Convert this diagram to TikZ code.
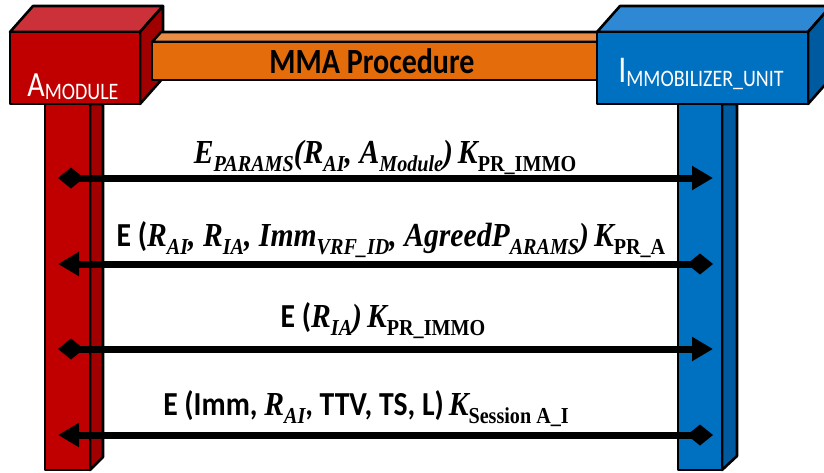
\documentclass[tikz,border=0pt]{standalone}
\usepackage{fontspec}
\setmainfont{Carlito}
\newfontfamily\mathserif{Liberation Serif}
\usetikzlibrary{arrows.meta}

\definecolor{redfront}{HTML}{C00000}
\definecolor{redtop}{HTML}{CC3038}
\definecolor{redside}{HTML}{A00000}
\definecolor{bluefront}{HTML}{0070C0}
\definecolor{bluetop}{HTML}{2E88D4}
\definecolor{blueside}{HTML}{005AA0}
\definecolor{orangefront}{HTML}{E46C0A}
\definecolor{orangetop}{HTML}{EB8C44}

% bold italic serif variable, its subscript, and an upright bold subscript
\newcommand\vi[1]{{\mathserif\bfseries\itshape #1}}
\newcommand\vsub[1]{\raisebox{-7pt}{\fontsize{19pt}{19pt}\selectfont\mathserif\bfseries\itshape #1}}
\newcommand\usub[1]{\raisebox{-7pt}{\fontsize{19pt}{19pt}\selectfont\mathserif\bfseries #1}}
% tall lettering for titles, slightly wider for the messages
\newcommand\tall[1]{\scalebox{1}[1.18]{#1}}
\newcommand\msgtext[1]{\scalebox{1.06}[1.2]{#1}}

\begin{document}
\begin{tikzpicture}[x=1pt,y=-1pt,line join=round,
  outline/.style={draw=black,line width=2.6pt},
  msg/.style={line width=7pt,draw=black},
  msglabel/.style={anchor=base,inner sep=0pt,font=\fontsize{28pt}{30pt}\selectfont},
  boxlabel/.style={anchor=base,inner sep=0pt,text=white},
  headT/.tip={Triangle[length=21pt,width=23pt]},
  headD/.tip={Diamond[length=26pt,width=21pt]}]
\useasboundingbox (0,0) rectangle (824,472);
\clip (0,0) rectangle (824,472);

% lifelines
\filldraw[outline,fill=redside] (90,104) -- (103,104) -- (103,457) -- (90,470) -- cycle;
\filldraw[outline,fill=redfront] (45,104) rectangle (90,470);
\filldraw[outline,fill=blueside] (722,104) -- (737,104) -- (737,456) -- (722,470) -- cycle;
\filldraw[outline,fill=bluefront] (678,104) rectangle (722,470);

% red block
\filldraw[outline,fill=redtop] (10,32) -- (33,6) -- (163,6) -- (140,32) -- cycle;
\filldraw[outline,fill=redside] (140,32) -- (163,6) -- (163,78) -- (140,104) -- cycle;
\filldraw[outline,fill=redfront] (10,32) rectangle (140,104);

% orange bar
\filldraw[outline,fill=orangetop] (152,42) -- (161,32) -- (610,32) -- (600,42) -- cycle;
\filldraw[outline,fill=orangefront] (152,42) rectangle (600,80);

% blue block
\filldraw[outline,fill=bluetop] (597,32) -- (620,6) -- (831,6) -- (808,32) -- cycle;
\filldraw[outline,fill=blueside] (808,32) -- (831,6) -- (831,78) -- (808,104) -- cycle;
\filldraw[outline,fill=bluefront] (597,32) rectangle (808,104);

% titles
\node[boxlabel] (amod) at (73,96)
  {\tall{\fontsize{30pt}{30pt}\selectfont A\raisebox{-3pt}{\fontsize{20pt}{20pt}\selectfont MODULE}}};
\node[boxlabel] (immo) at (701,82)
  {\tall{\fontsize{32pt}{32pt}\selectfont I\raisebox{-4pt}{\fontsize{20pt}{20pt}\selectfont MMOBILIZER\_UNIT}}};
\node[anchor=base,inner sep=0pt,font=\fontsize{30pt}{30pt}\selectfont\bfseries] (mma) at (372,73) {\tall{MMA Procedure}};

% message end points on the lifelines
\coordinate (l1) at (58,178);  \coordinate (r1) at (713,178);
\coordinate (l2) at (58,264);  \coordinate (r2) at (713,264);
\coordinate (l3) at (58,349);  \coordinate (r3) at (713,349);
\coordinate (l4) at (58,435);  \coordinate (r4) at (713,435);

\draw[msg,{headD}-{headT}] (l1) -- (r1);
\draw[msg,{headT}-{headD}] (l2) -- (r2);
\draw[msg,{headD}-{headT}] (l3) -- (r3);
\draw[msg,{headT}-{headD}] (l4) -- (r4);

% message labels
\node[msglabel] (m1) at (385,163)
  {\msgtext{\vi{E}\vsub{PARAMS}\vi{(R}\vsub{AI}\vi{, A}\vsub{Module}\vi{)\,K}\usub{PR\_IMMO}}};
\node[msglabel] (m2) at (391,246)
  {\msgtext{\bfseries E (\vi{R}\vsub{AI}\vi{, R}\vsub{IA}\vi{, Imm}\vsub{VRF\_ID}\vi{, AgreedP}\vsub{ARAMS}\vi{)\,K}\usub{PR\_A}}};
\node[msglabel] (m3) at (383,327)
  {\msgtext{\bfseries E (\vi{R}\vsub{IA}\vi{)\,K}\usub{PR\_IMMO}}};
\node[msglabel] (m4) at (366,415)
  {\msgtext{\bfseries E (Imm, \vi{R}\vsub{AI}, TTV, TS, L)\,\vi{K}\usub{Session A\_I}}};
\end{tikzpicture}
\end{document}
